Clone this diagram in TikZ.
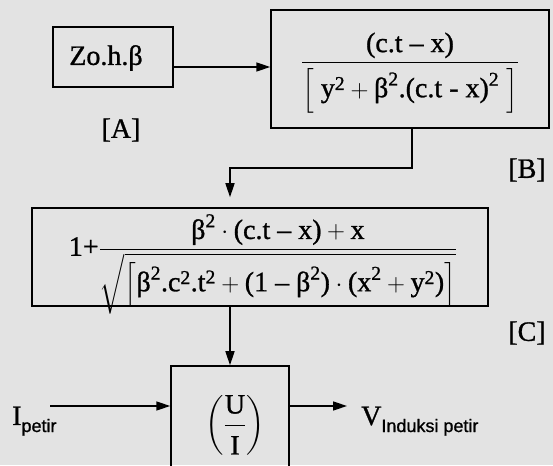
\documentclass[tikz,border=0pt]{standalone}
\usepackage{amsmath}
\usepackage{fontspec}
\setmainfont{Liberation Serif}[FakeBold=1]
\newfontfamily\subsf{Liberation Sans}[FakeBold=1]
\usetikzlibrary{arrows.meta,calc}
\newcommand{\T}[1]{\text{#1}}
\begin{document}
\begin{tikzpicture}[x=1pt,y=1pt,
  blk/.style={draw,line width=1.5pt,inner sep=0pt},
  txt/.style={inner sep=0pt,font=\fontsize{28}{33}\selectfont},
  con/.style={line width=1.6pt,-{Triangle[length=14pt,width=9pt]}}]
\useasboundingbox[fill=black!11] (0,0) rectangle (553,465);
% boxes
\node[blk,minimum width=120pt,minimum height=60pt] (A) at (113,408) {};
\node[blk,minimum width=278pt,minimum height=118pt] (B) at (410,396) {};
\node[blk,minimum width=456pt,minimum height=98pt] (C) at (260,208) {};
\node[blk,minimum width=118pt,minimum height=130pt] (D) at (230,34) {};
% contents
\node[txt] (ta) at (106,407) {Zo.h.β};
\node[txt] (la) at (121,335) {[A]};
\node[txt] (tb) at (410,392) {$\dfrac{\T{(c.t – x)}}{\left[\rule[-15pt]{0pt}{46pt}\;\T{y}^{\T{2}}+\T{β}^{\T{2}}\T{.(c.t - x)}^{\T{2}}\;\right]}$};
\node[txt] (lb) at (527,295) {[B]};
\node[txt] (tc) at (263,201) {$\T{1+}\dfrac{\T{β}^{\T{2}}\cdot\T{(c.t – x)}+\T{x}}{\sqrt{\left[\rule[-14pt]{0pt}{42pt}\T{β}^{\T{2}}\T{.c}^{\T{2}}\T{.t}^{\T{2}}+\T{(1 – β}^{\T{2}}\T{)}\cdot\T{(x}^{\T{2}}+\T{y}^{\T{2}}\T{)}\right]}}$};
\node[txt] (lc) at (527,132) {[C]};
\node[txt] (td) at (235,40) {$\left(\dfrac{\rule[-8pt]{0pt}{8pt}\T{U}}{\rule{0pt}{26pt}\T{I}}\right)$};
\node[txt,anchor=base west] (ip) at (12,40) {I\raisebox{-7pt}{\subsf\fontsize{18}{20}\selectfont petir}};
\node[txt,anchor=base west] (vo) at (361,40) {V\raisebox{-7pt}{\subsf\fontsize{18}{20}\selectfont Induksi petir}};
% connectors
\coordinate (ab) at (173,398);
\coordinate (bc1) at (412,297);
\coordinate (bc2) at (230,297);
\coordinate (cd) at (230,0);
\coordinate (iin) at (50,59);
\coordinate (vout) at (347,59);
\draw[con] (ab) -- (ab -| B.west);
\draw[con,shorten >=10pt] (B.south -| bc1) -- (bc1) -- (bc2) -- (bc2 |- C.north);
\draw[con] (C.south -| cd) -- (D.north -| cd);
\draw[con] (iin) -- (iin -| D.west);
\draw[con] (vout -| D.east) -- (vout);
\end{tikzpicture}
\end{document}
